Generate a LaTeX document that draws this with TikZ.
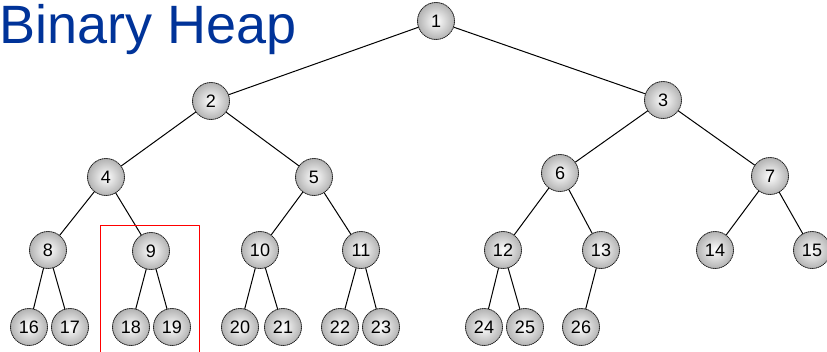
\documentclass[tikz,border=0pt]{standalone}
\usepackage{fontspec}
\setmainfont{Liberation Sans}
\definecolor{titleblue}{RGB}{0,51,153}
\begin{document}
\begin{tikzpicture}[x=1pt, y=-1pt, line join=round, line cap=round,
	heapnode/.style={circle, minimum size=37pt, inner sep=0pt, draw=black!85, densely dotted, line width=0.9pt,
		shading=radial, inner color=white, outer color=black!30, font=\fontsize{18}{18}\selectfont}]
	\useasboundingbox (0,0) rectangle (827,351);
	\node[anchor=base west, inner sep=0pt, text=titleblue, font=\fontsize{54}{54}\selectfont] (title) at (-1,43) {Binary Heap};
	% heap nodes, level by level
	\foreach \n/\x/\y in {1/436/21, 2/211/101, 3/663/100, 4/106/177, 5/314/177, 6/560/173, 7/770/176,
		8/48/250, 9/151/251, 10/260/250, 11/361/250, 12/503/250, 13/601/250, 14/715/250, 15/812/250,
		16/29/327, 17/70/327, 18/131/327, 19/172/327, 20/240/327, 21/283/327, 22/340/327, 23/381/327,
		24/484/327, 25/525/327, 26/581/327}
	\node[heapnode] (n\n) at (\x,\y) {\n};
	% parent links
	\foreach \n in {2,...,26}{
		\pgfmathtruncatemacro{\p}{floor(\n/2)}
		\draw[line width=1pt] (n\p) -- (n\n);
	}
	% subtree of 9
	\coordinate (bl) at (100,355);
	\coordinate (tl) at (100,225);
	\coordinate (tr) at (199,225);
	\coordinate (br) at (199,355);
	\draw[red, line width=1pt] (bl) -- (tl) -- (tr) -- (br);
\end{tikzpicture}
\end{document}
